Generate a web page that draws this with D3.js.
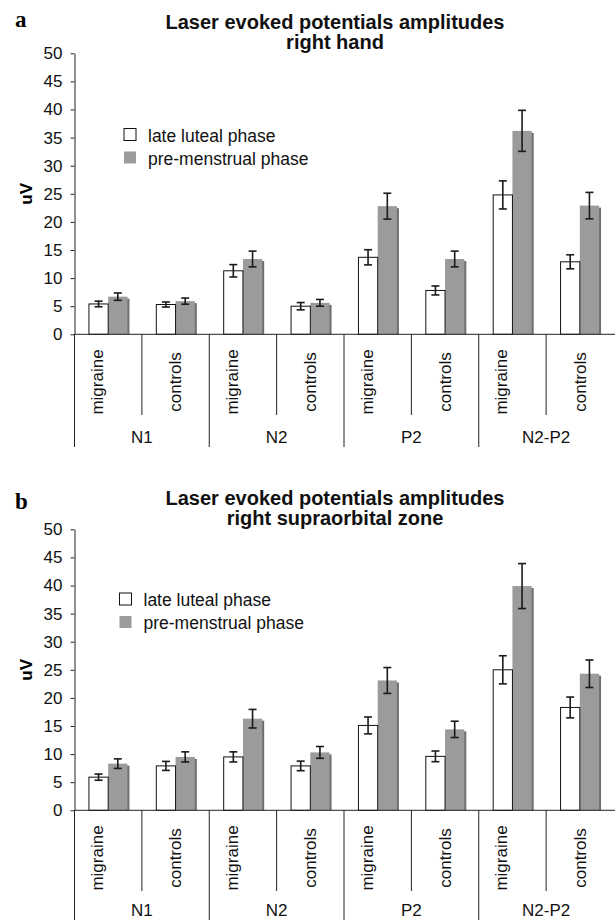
<!DOCTYPE html>
<html lang="en">
<head>
<meta charset="UTF-8" />
<title>Laser evoked potentials amplitudes</title>
<script src="https://d3js.org/d3.v7.min.js"></script>
<style>
  body { margin: 0; background: #fff; }
  svg { display: block; font-family: "Liberation Sans", Arial, sans-serif; }
  .tick text { font-size: 17px; fill: #111; }
</style>
</head>
<body>
<svg id="chart" width="615" height="920"></svg>
<script>
// groups / subgroups on the category axis
const groups = ["N1", "N2", "P2", "N2-P2"];
const subgroups = ["migraine", "controls"];
const seriesNames = ["late luteal phase", "pre-menstrual phase"];
const yTicks = [0, 5, 10, 15, 20, 25, 30, 35, 40, 45, 50];

// panel a - right hand (order: N1 mig, N1 ctl, N2 mig, N2 ctl, P2 ..., N2-P2 ...)
const handLate = [5.4, 5.3, 11.3, 5.0, 13.7, 7.8, 24.8, 12.9];
const handLateErr = [0.5, 0.45, 1.1, 0.65, 1.35, 0.8, 2.5, 1.25];
const handPre = [6.7, 5.9, 13.4, 5.6, 22.8, 13.4, 36.2, 22.9];
const handPreErr = [0.65, 0.55, 1.4, 0.6, 2.3, 1.4, 3.65, 2.35];

// panel b - right supraorbital zone
const supraLate = [5.9, 7.9, 9.5, 7.9, 15.1, 9.6, 25.0, 18.3];
const supraLateErr = [0.55, 0.8, 0.9, 0.85, 1.5, 0.95, 2.5, 1.85];
const supraPre = [8.3, 9.5, 16.3, 10.3, 23.1, 14.4, 39.9, 24.3];
const supraPreErr = [0.85, 0.9, 1.65, 1.05, 2.3, 1.45, 4.0, 2.45];

const svg = d3.select("#chart");

const cats = [];
groups.forEach(g => subgroups.forEach(s => cats.push(g + "|" + s)));

const x = d3.scaleBand().domain(cats).range([74.5, 613.5]).padding(0);
const gx = d3.scaleBand().domain(groups).range(x.range()).padding(0);
const step = x.step();
const bw = step / 3.5; // excel gap width 150%
const y = d3.scaleLinear().domain([0, 50]).range([334.3, 53.3]);

const labelShift = { migraine: -5, controls: 5.8 };

function drawPanel(p) {
  const g = svg.append("g").attr("transform", `translate(0,${p.top})`);

  // panel letter
  g.append("text")
    .attr("x", 15).attr("y", p.letterY)
    .style("font-family", "'Liberation Serif', 'Times New Roman', serif")
    .style("font-weight", "bold").style("font-size", "23px")
    .text(p.letter);

  // title
  g.selectAll(".title").data(p.title).join("text")
    .attr("x", 335).attr("y", (d, i) => 29 + i * 20)
    .attr("text-anchor", "middle")
    .style("font-weight", "bold").style("font-size", "20px")
    .attr("fill", "#111")
    .text(d => d);

  // y axis title
  g.append("text")
    .attr("transform", `translate(32,${(y(0) + y(50)) / 2}) rotate(-90)`)
    .attr("text-anchor", "middle")
    .style("font-weight", "bold").style("font-size", "17px")
    .text("uV");

  const rows = cats.map((c, i) => ({
    cat: c, sub: c.split("|")[1],
    late: p.late[i], lateErr: p.lateErr[i],
    pre: p.pre[i], preErr: p.preErr[i]
  }));

  // gray bar shadows
  g.selectAll(".shadow").data(rows).join("rect")
    .attr("x", d => x(d.cat) + 0.75 * bw + bw + 2)
    .attr("y", d => y(d.pre) + 2)
    .attr("width", bw)
    .attr("height", d => y(0) - y(d.pre) - 2)
    .attr("fill", "#6f6f6f");

  g.selectAll(".pre").data(rows).join("rect")
    .attr("x", d => x(d.cat) + 0.75 * bw + bw)
    .attr("y", d => y(d.pre))
    .attr("width", bw)
    .attr("height", d => y(0) - y(d.pre))
    .attr("fill", "#9b9b9b");

  g.selectAll(".late").data(rows).join("rect")
    .attr("x", d => x(d.cat) + 0.75 * bw)
    .attr("y", d => y(d.late))
    .attr("width", bw)
    .attr("height", d => y(0) - y(d.late))
    .attr("fill", "#fff").attr("stroke", "#111").attr("stroke-width", 1);

  // error bars
  const errs = [];
  rows.forEach(d => {
    errs.push({ cx: x(d.cat) + 0.75 * bw + bw / 2, v: d.late, e: d.lateErr });
    errs.push({ cx: x(d.cat) + 0.75 * bw + bw * 1.5, v: d.pre, e: d.preErr });
  });
  const eg = g.append("g").attr("stroke", "#1a1a1a").attr("stroke-width", 1.6);
  errs.forEach(d => {
    eg.append("line").attr("x1", d.cx).attr("x2", d.cx)
      .attr("y1", y(d.v + d.e)).attr("y2", y(d.v - d.e));
    [d.v + d.e, d.v - d.e].forEach(v => {
      eg.append("line").attr("x1", d.cx - 4).attr("x2", d.cx + 4)
        .attr("y1", y(v)).attr("y2", y(v));
    });
  });

  // y axis
  const ax = g.append("g").attr("transform", `translate(${x.range()[0]},0)`)
    .call(d3.axisLeft(y).tickValues(yTicks).tickSize(4).tickPadding(8).tickSizeOuter(0));
  ax.select(".domain").attr("stroke", "#222");
  ax.selectAll(".tick line").attr("stroke", "#222");

  // x baseline
  g.append("line")
    .attr("x1", x.range()[0]).attr("x2", 615)
    .attr("y1", y(0)).attr("y2", y(0))
    .attr("stroke", "#222");

  // category separators
  const bounds = d3.range(0, cats.length).map(i => ({ i, xv: x.range()[0] + i * step }));
  g.selectAll(".sep").data(bounds).join("line")
    .attr("x1", d => d.xv).attr("x2", d => d.xv)
    .attr("y1", y(0)).attr("y2", d => d.i % 2 ? 415 : 447)
    .attr("stroke", "#222");

  // subgroup labels (rotated)
  g.selectAll(".sub").data(rows).join("text")
    .attr("transform", d => `translate(${x(d.cat) + step / 2 + labelShift[d.sub]},382) rotate(-90)`)
    .attr("text-anchor", "middle")
    .style("font-size", "17px").attr("fill", "#111")
    .text(d => d.sub);

  // group labels
  g.selectAll(".grp").data(groups).join("text")
    .attr("x", d => gx(d) + gx.bandwidth() / 2)
    .attr("y", p.groupY)
    .attr("text-anchor", "middle")
    .style("font-size", "17px").attr("fill", "#111")
    .text(d => d);

  // legend
  const lg = g.append("g").attr("transform", `translate(${p.legendX},${p.legendY})`);
  seriesNames.forEach((s, i) => {
    lg.append("rect")
      .attr("x", 0).attr("y", i * 23).attr("width", 12).attr("height", 12)
      .attr("fill", i ? "#9b9b9b" : "#fff")
      .attr("stroke", i ? "none" : "#111");
    lg.append("text")
      .attr("x", 24).attr("y", i * 23 + 13)
      .style("font-size", "17.5px").attr("fill", "#111")
      .text(s);
  });
}

drawPanel({
  top: 0, letter: "a", letterY: 27, groupY: 442.7,
  title: ["Laser evoked potentials amplitudes", "right hand"],
  late: handLate, lateErr: handLateErr, pre: handPre, preErr: handPreErr,
  legendX: 124, legendY: 128.5
});

drawPanel({
  top: 476, letter: "b", letterY: 33, groupY: 439.5,
  title: ["Laser evoked potentials amplitudes", "right supraorbital zone"],
  late: supraLate, lateErr: supraLateErr, pre: supraPre, preErr: supraPreErr,
  legendX: 119.5, legendY: 117
});
</script>
</body>
</html>
